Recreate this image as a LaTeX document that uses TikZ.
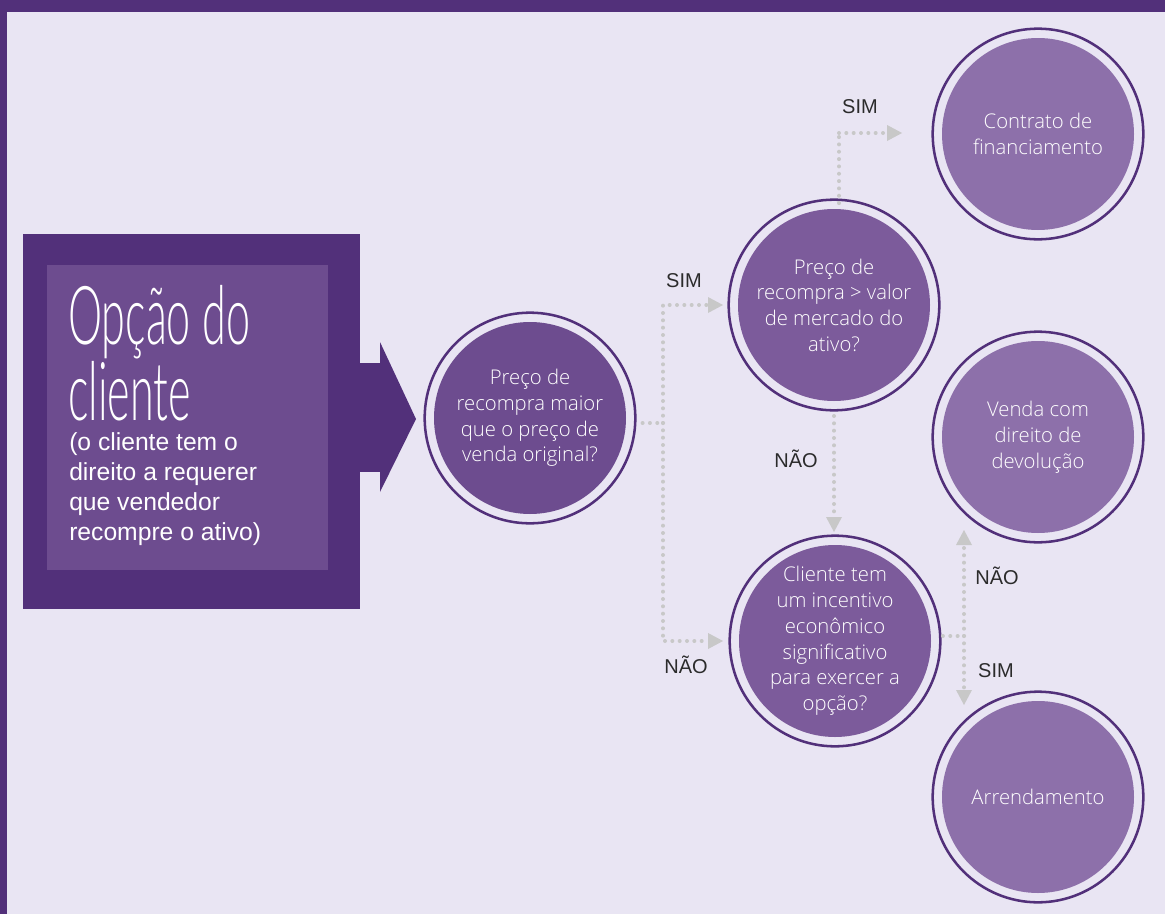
\documentclass[tikz,border=0pt]{standalone}
\usepackage{fontspec}
\setmainfont{Liberation Sans}
\newfontfamily\titlefont[FakeStretch=0.53]{Lato Light}
\newfontfamily\lightfont{Open Sans Light}
\usetikzlibrary{arrows.meta}

\definecolor{bgc}{HTML}{E9E5F3}
\definecolor{darkp}{HTML}{52307A}
\definecolor{midp}{HTML}{6D4C8F}
\definecolor{qp}{HTML}{7C5B9B}
\definecolor{endp}{HTML}{8D70AA}
\definecolor{dotc}{HTML}{C8C8C8}
\definecolor{labc}{HTML}{2B2B2B}

\tikzset{
  decision/.style={circle, minimum size=158pt, inner sep=0pt,
    draw=darkp, line width=1.9pt, fill=bgc,
    path picture={\fill[#1] (path picture bounding box.center) circle[radius=72pt];},
    text=white, align=center,
    font=\lightfont\fontsize{15.2}{19.3}\selectfont},
  conn/.style={draw=dotc, line width=3pt, line cap=round,
    dash pattern=on 0pt off 5.5pt,
    -{Triangle[length=11.25pt, width=12pt, line width=0pt]}},
  plain/.style={draw=dotc, line width=3pt, line cap=round,
    dash pattern=on 0pt off 5.5pt},
  lab/.style={anchor=base, text=labc, font=\fontsize{15}{18}\selectfont, inner sep=0pt},
}

\begin{document}
\begin{tikzpicture}[x=0.75pt, y=-0.75pt]
  \useasboundingbox (0,0) rectangle (1165,914);
  % page background and frame
  \fill[bgc] (0,0) rectangle (1165,914);
  \fill[darkp] (0,0) rectangle (1165,12);
  \fill[darkp] (0,0) rectangle (7,914);

  % title block with its pointing arrow
  \fill[darkp] (23,234) rectangle (360,609);
  \fill[midp] (47,265) rectangle (328,570);
  \fill[darkp] (359,363) rectangle (381,472);
  \fill[darkp] (380,342) -- (416,419) -- (380,492) -- cycle;
  % multi-line nodes: the base anchor sits on the last line
  \node[anchor=base west, inner sep=0pt, align=left, text=white,
        font=\titlefont\fontsize{61}{50}\selectfont] (title) at (68,420)
        {Opção do\\cliente};
  \node[anchor=base west, inner sep=0pt, align=left, text=white,
        font=\fontsize{18.5}{22.5}\selectfont] (sub) at (69,540)
        {(o cliente tem o\\direito a requerer\\que vendedor\\recompre o ativo)};

  % decision and outcome circles
  \node[decision=midp] (c1) at (530,418)
     {Preço de\\recompra maior\\que o preço de\\venda original?};
  \node[decision=qp] (c2) at (834,305)
     {Preço de\\recompra > valor\\de mercado do\\ativo?};
  \node[decision=qp] (c3) at (835,641)
     {Cliente tem\\um incentivo\\econômico\\significativo\\para exercer a\\opção?};
  \node[decision=endp] (c4) at (1038,134) {Contrato de\\financiamento};
  \node[decision=endp] (c5) at (1038,437) {Venda com\\direito de\\devolução};
  \node[decision=endp] (c6) at (1038,797) {Arrendamento};

  % junctions and free arrow ends
  \coordinate (j1) at (663,423);
  \coordinate (j2) at (839,133);
  \coordinate (j3) at (964,636);
  \coordinate (t5) at (964,530);
  \coordinate (t6) at (964,705);

  % connectors
  \draw[plain, shorten <=4.5pt] (c1.east |- j1) -- (j1);
  \draw[conn, shorten >=3.3pt] (j1) |- (c2.west);
  \draw[conn, shorten >=4pt] (j1) |- (c3.west);
  \draw[plain, shorten <=-3.5pt] (c2.north -| j2) -- (j2);
  \draw[conn, shorten >=22pt] (j2) -- (c4.west |- j2);
  \draw[conn, shorten <=3.3pt, shorten >=1.8pt] (c2.south) -- (c2.south |- c3.north);
  \draw[plain, shorten <=1pt] (c3.east |- j3) -- (j3);
  \draw[conn] (j3) -- (t5);
  \draw[conn] (j3) -- (t6);

  % branch labels
  \node[lab] (l1) at (684,287) {SIM};
  \node[lab] (l2) at (686,673) {NÃO};
  \node[lab] (l3) at (860,113) {SIM};
  \node[lab] (l4) at (796,467) {NÃO};
  \node[lab] (l5) at (997,584) {NÃO};
  \node[lab] (l6) at (996,677) {SIM};
\end{tikzpicture}
\end{document}
